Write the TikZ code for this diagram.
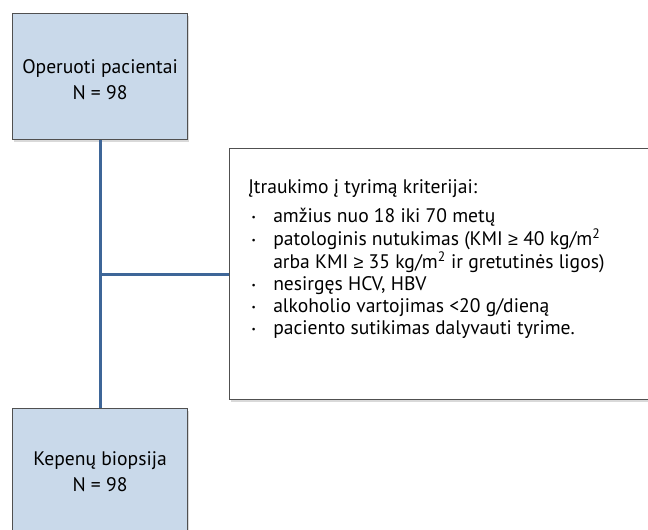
\documentclass[tikz,border=0pt]{standalone}
\usepackage{fontspec}
\setmainfont{PT Sans}
\newfontfamily\geqfont{Liberation Sans}
\usetikzlibrary{positioning,shadows}
\definecolor{boxfill}{HTML}{C9D9EA}
\definecolor{boxline}{HTML}{505050}
\definecolor{linkblue}{HTML}{3E6698}
\newcommand{\critdot}{\hspace*{2.5pt}\raisebox{1.5pt}{\scriptsize\textbullet}}
\newcommand{\critgeq}{{\geqfont\fontsize{13.5}{16.4}\selectfont ≥}}

\begin{document}
\begin{tikzpicture}[x=0.75pt,y=-0.75pt,font=\fontsize{14.7}{16.4}\selectfont,
  patbox/.style={draw=boxline,fill=boxfill,line width=0.8pt,minimum width=131.25pt,minimum height=94.5pt,align=center,font=\fontsize{14.7}{19.5}\selectfont,drop shadow={opacity=0.3,shadow xshift=1.2pt,shadow yshift=-1.5pt}},
  critbox/.style={draw=boxline,fill=white,line width=0.8pt,minimum width=320pt,minimum height=188.25pt,drop shadow={opacity=0.3,shadow xshift=1.2pt,shadow yshift=-1.5pt}},
  link/.style={draw=linkblue,line width=2.25pt}]
	\useasboundingbox (0,0) rectangle (648,529);
	\clip (0,0) rectangle (648,529);
	\node[patbox,anchor=north west] (opbox) at (12,13) {\\[-4pt]Operuoti pacientai\\N = 98};
	\node[patbox,below=201pt of opbox] (biobox) {Kepenų biopsija\\N = 98};
	\node[critbox,anchor=north west] (crit) at (229,148) {};
	\node[anchor=north west,align=left,inner sep=0pt] (critlist) at (248,178) {%
	  \begin{tabular}{@{}p{18.75pt}@{}l@{}}
	  \multicolumn{2}{@{}l@{}}{Įtraukimo į tyrimą kriterijai:}\\[5pt]
	  \critdot & amžius nuo 18 iki 70 metų\\
	  \critdot & patologinis nutukimas (KMI \critgeq{} 40 kg/m\textsuperscript{2}\\
	           & arba KMI \critgeq{} 35 kg/m\textsuperscript{2} ir gretutinės ligos)\\
	  \critdot & nesirgęs HCV, HBV\\
	  \critdot & alkoholio vartojimas <20 g/dieną\\
	  \critdot & paciento sutikimas dalyvauti tyrime.
	  \end{tabular}};
	\coordinate (split) at (opbox.south |- crit.west);
	\path[link] (opbox) -- (biobox);
	\path[link] (split) -- (crit);
\end{tikzpicture}
\end{document}
